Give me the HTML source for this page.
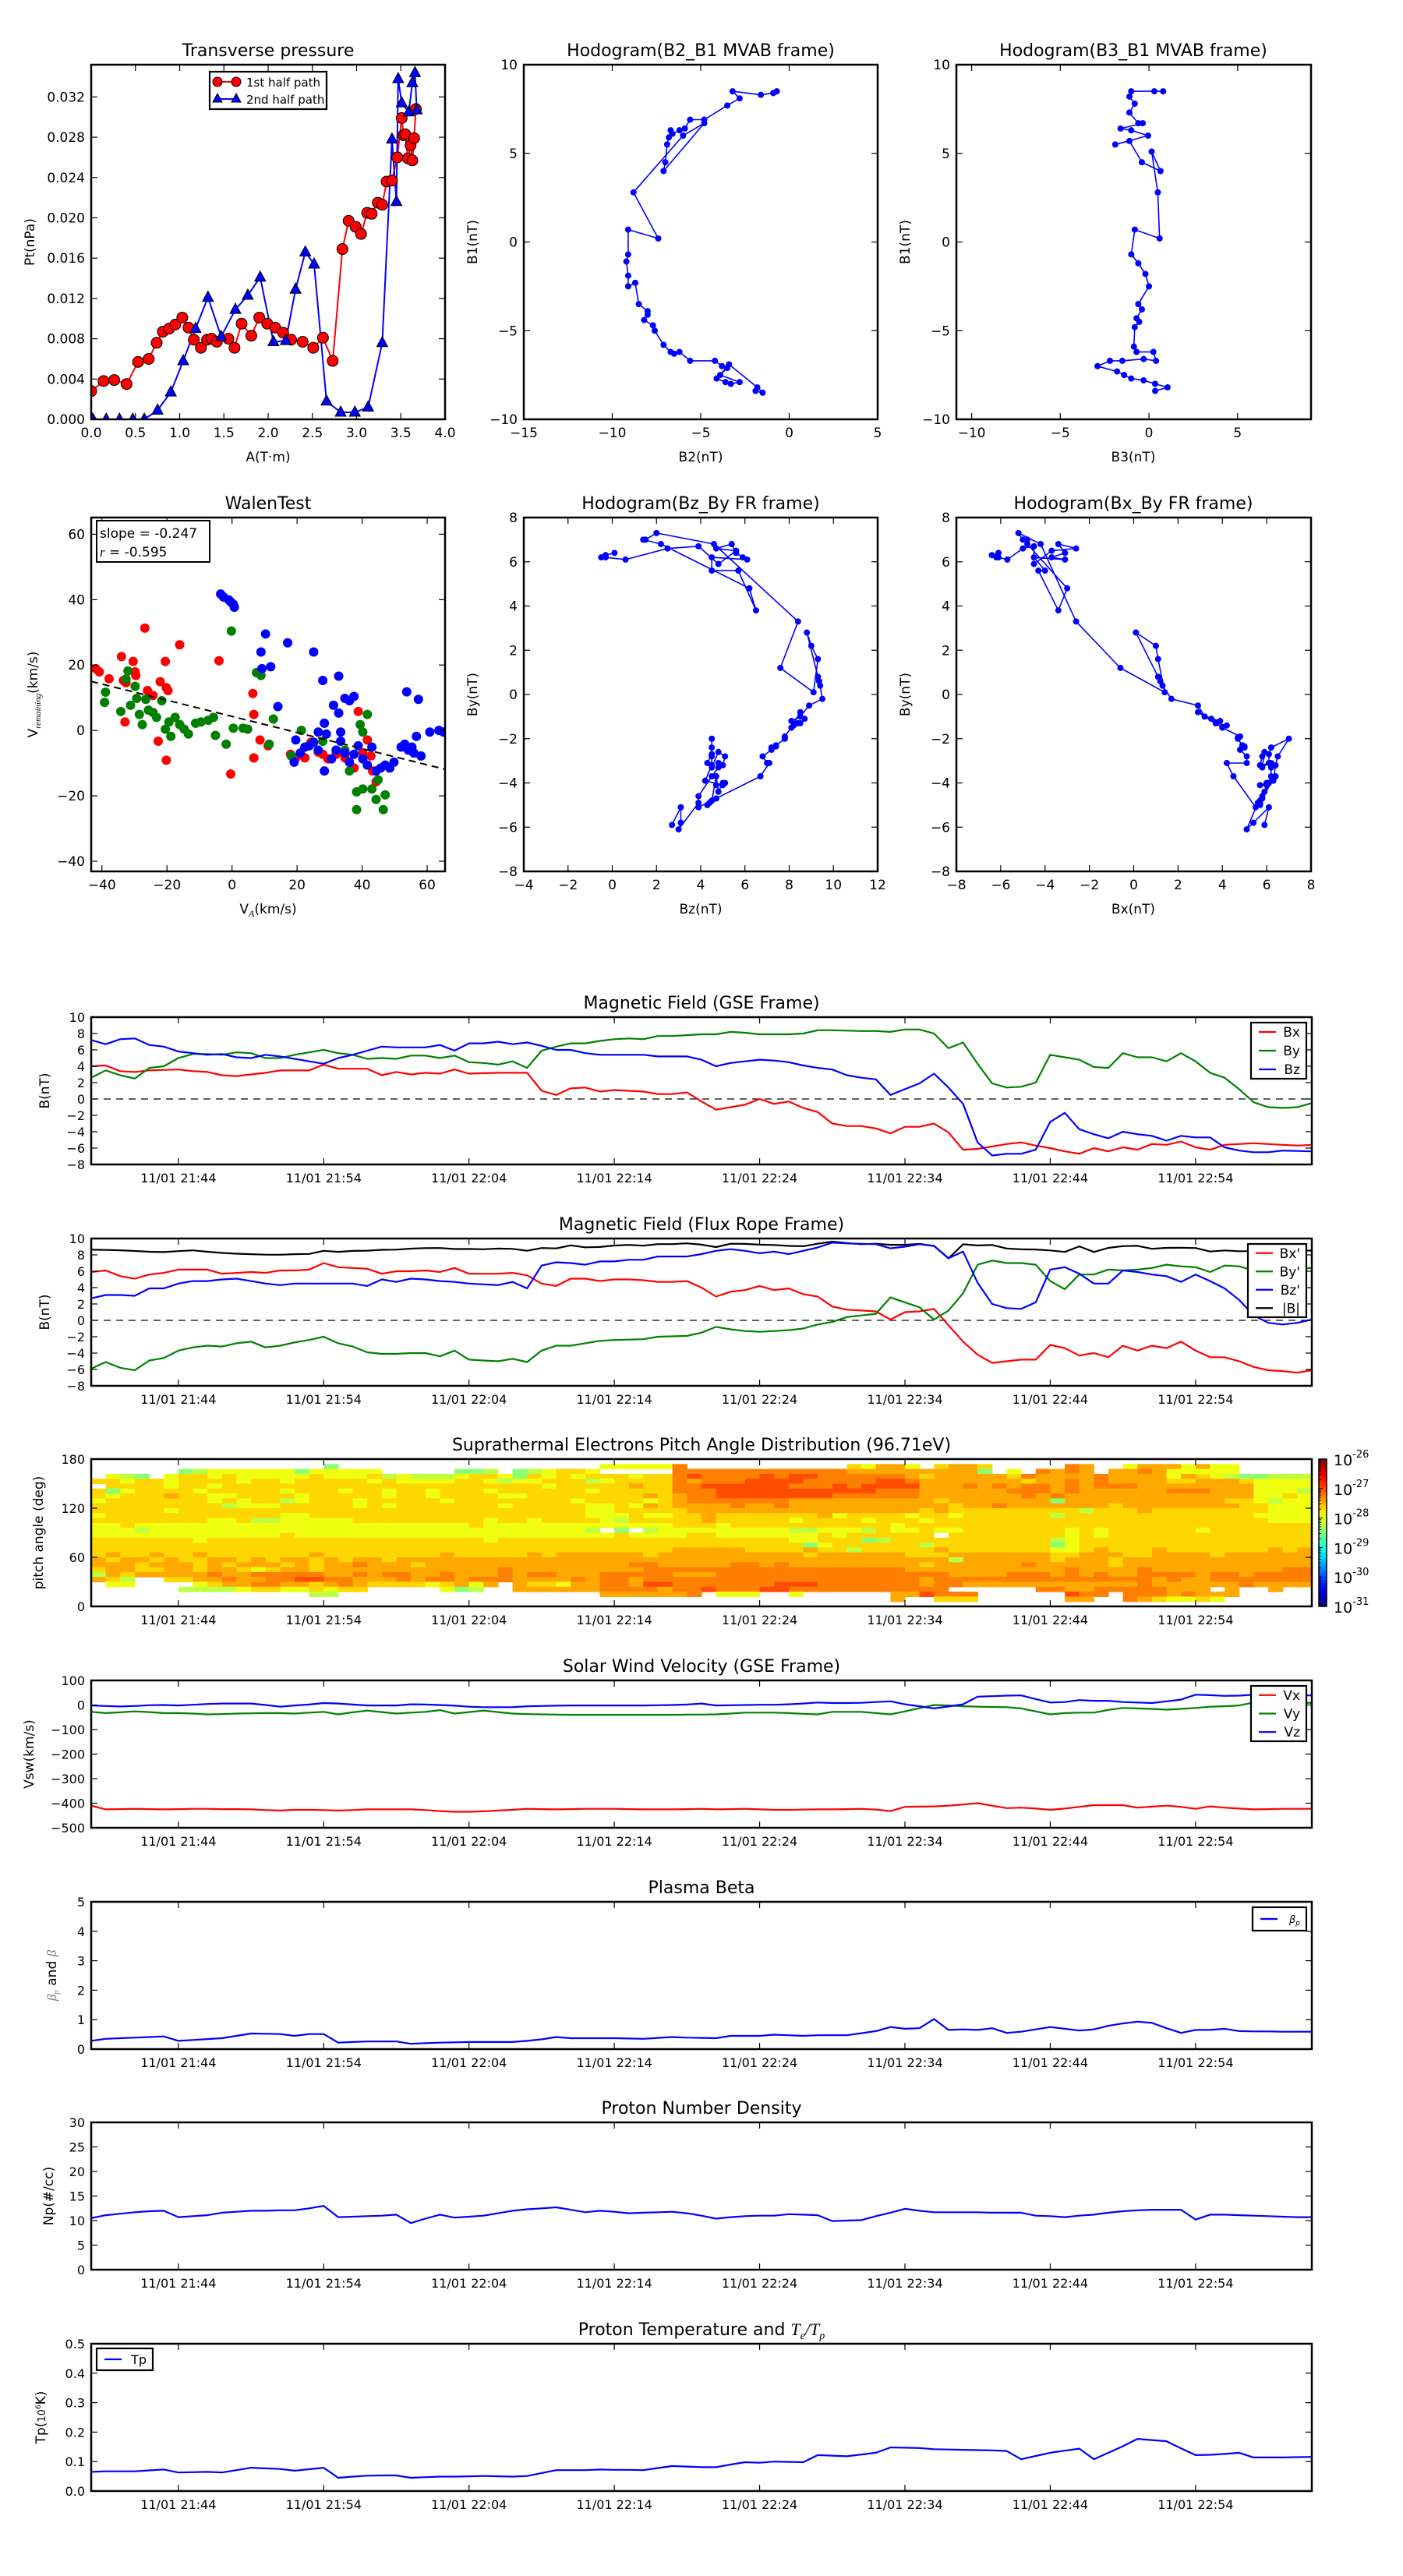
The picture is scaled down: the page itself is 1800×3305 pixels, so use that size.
<!DOCTYPE html>
<html><head><meta charset="utf-8">
<style>
html,body{margin:0;padding:0;background:#fff;}
svg text{font-family:"DejaVu Sans","Liberation Sans",sans-serif;fill:#000;}
</style></head>
<body>
<svg id="fig" xmlns="http://www.w3.org/2000/svg" width="1800" height="3300" viewBox="0 0 1800 3300">
<rect x="0" y="0" width="1800" height="3300" fill="#fff"/>
</svg>
<script>
// ---------------- DATA ----------------
const timeTickMin=[6,16,26,36,46,56,66,76];
const timeTickLabels=["11/01 21:44","11/01 21:54","11/01 22:04","11/01 22:14","11/01 22:24","11/01 22:34","11/01 22:44","11/01 22:54"];

const gseBx=[4.0,4.1,3.4,3.3,3.5,3.55,3.6,3.4,3.3,2.9,2.8,3.0,3.2,3.5,3.5,3.5,4.2,3.7,3.7,3.7,2.9,3.3,3.0,3.2,3.1,3.6,3.1,3.15,3.2,3.2,3.2,1.0,0.5,1.3,1.4,0.9,1.1,1.0,0.9,0.6,0.6,0.8,-0.3,-1.3,-1.0,-0.7,0.0,-0.6,-0.3,-1.1,-1.6,-3.0,-3.3,-3.3,-3.6,-4.2,-3.4,-3.4,-3.0,-4.1,-6.2,-6.1,-5.8,-5.5,-5.3,-5.7,-6.0,-6.4,-6.7,-6.0,-6.4,-5.9,-6.2,-5.5,-5.6,-5.2,-5.9,-6.2,-5.6,-5.5,-5.4,-5.5,-5.6,-5.7,-5.6];
const gseBy=[2.6,3.5,2.9,2.5,3.8,4.0,5.0,5.5,5.5,5.4,5.7,5.6,5.0,5.0,5.4,5.7,6.0,5.6,5.4,4.9,5.0,4.9,5.3,5.3,5.0,5.3,4.5,4.4,4.2,4.6,3.8,5.9,6.4,6.8,6.8,7.1,7.3,7.4,7.3,7.7,7.7,7.8,7.9,7.9,8.2,8.1,7.9,7.9,7.9,8.0,8.4,8.4,8.35,8.3,8.3,8.2,8.5,8.5,8.0,6.2,6.9,4.3,1.9,1.4,1.5,2.0,5.4,5.1,4.8,3.9,3.8,5.6,5.1,5.1,4.6,5.6,4.6,3.2,2.6,1.2,-0.4,-1.0,-1.1,-1.0,-0.5];
const gseBz=[7.2,6.7,7.3,7.4,6.6,6.4,5.8,5.6,5.4,5.5,5.1,5.0,5.4,5.2,4.9,4.6,4.3,5.0,5.4,5.9,6.4,6.3,6.3,6.3,6.6,5.9,6.8,6.8,7.0,6.7,6.9,6.5,6.0,6.0,5.6,5.4,5.4,5.4,5.4,5.2,5.2,5.2,4.8,4.0,4.4,4.6,4.8,4.7,4.5,4.1,3.8,3.6,2.9,2.6,2.4,0.5,1.2,1.9,3.1,1.4,-0.6,-5.3,-6.9,-6.7,-6.7,-6.2,-2.8,-1.7,-3.7,-4.3,-4.8,-4.0,-4.3,-4.5,-5.1,-4.5,-4.7,-4.7,-5.9,-6.3,-6.5,-6.5,-6.3,-6.35,-6.4];

const frBx=[5.9,6.1,5.4,5.1,5.6,5.8,6.2,6.2,6.2,5.7,5.8,5.9,5.8,6.1,6.1,6.2,7.0,6.5,6.4,6.3,5.7,6.0,6.0,6.1,5.9,6.4,5.7,5.7,5.7,5.8,5.5,4.5,4.2,5.1,5.1,4.8,5.0,5.0,4.9,4.7,4.7,4.8,4.0,2.9,3.5,3.7,4.2,3.7,3.9,3.2,2.9,1.7,1.3,1.2,1.1,0.1,1.0,1.1,1.4,-0.6,-2.6,-4.2,-5.2,-5.0,-4.8,-4.8,-3.0,-3.4,-4.3,-4.0,-4.5,-3.1,-3.7,-3.1,-3.4,-2.6,-3.7,-4.5,-4.5,-5.0,-5.7,-6.1,-6.2,-6.4,-6.1];
const frBy=[-5.9,-5.1,-5.8,-6.1,-4.9,-4.6,-3.7,-3.3,-3.1,-3.2,-2.8,-2.6,-3.3,-3.1,-2.7,-2.4,-2.0,-2.8,-3.2,-3.9,-4.1,-4.1,-4.0,-4.0,-4.4,-3.7,-4.8,-4.9,-5.0,-4.7,-5.1,-3.7,-3.1,-3.1,-2.8,-2.5,-2.4,-2.35,-2.3,-2.0,-1.95,-1.9,-1.5,-0.8,-1.1,-1.3,-1.4,-1.3,-1.2,-1.0,-0.5,-0.2,0.4,0.6,0.8,2.8,2.2,1.6,0.1,1.2,3.3,6.8,7.3,7.0,7.0,6.8,4.8,3.8,5.6,5.6,6.2,6.1,6.2,6.4,6.8,6.6,6.5,5.9,6.7,6.6,6.1,6.2,6.2,6.3,6.4];
const frBz=[2.7,3.1,3.1,3.0,3.9,3.9,4.5,4.8,4.8,5.0,5.1,4.8,4.5,4.3,4.5,4.5,4.5,4.5,4.5,4.2,5.0,4.7,5.1,5.0,4.8,4.7,4.5,4.4,4.3,4.7,3.9,6.7,7.1,7.0,6.8,7.2,7.2,7.4,7.4,7.8,7.8,7.8,8.1,8.5,8.7,8.5,8.2,8.4,8.1,8.5,8.9,9.5,9.4,9.35,9.3,8.8,9.0,9.3,9.1,7.6,8.4,4.6,2.0,1.5,1.4,2.2,6.2,6.5,5.7,4.5,4.5,6.1,5.9,5.6,5.4,4.7,5.6,4.8,3.9,2.5,0.6,-0.3,-0.5,-0.3,0.1];

// PAD: one string per 6-degree pitch-angle bin (top = 174-180 deg), one digit per minute (0 = no data, 1..7 = flux level)
const padRows=[
"00000 00000 00000 00000 00000 00000 00000 00000 00000 00000 00000 00000 00000 00000 00000 00000 00000",
"00000 00000 00000 01000 00000 00000 00000 33333 60000 00000 00435 53045 54000 00650 03555 35330 00000",
"00000 01233 33331 33333 00000 11201 23443 00000 66666 66666 66555 55555 51030 65650 55653 33330 00000",
"03210 34434 33333 43334 23222 34431 43434 44344 67666 67677 66666 65455 55546 55556 55553 54321 12222",
"44344 34444 34434 44443 43333 44323 34442 34444 65666 77776 66667 76555 55554 55656 55554 45554 33333",
"04444 34434 44444 44444 44444 44444 43444 44544 66777 77766 67677 77555 65656 65656 66555 55555 33332",
"41344 44344 44434 44344 34434 44344 44443 44444 66677 77777 77776 66555 55566 65655 55556 66555 33323",
"43444 54433 44443 44444 34434 44433 44444 44454 56677 77777 76666 66555 55556 56555 55555 55555 33433",
"34444 44434 34423 44434 44443 44444 44434 44434 56666 66655 55555 55545 55555 51555 55555 55544 32333",
"44444 44442 33344 44434 34444 44434 44443 34354 55556 55655 55555 55554 55655 55555 45555 55554 43333",
"44444 34444 44444 44444 44444 44444 44443 34444 45555 55555 55555 55454 44444 44424 44544 44444 43333",
"34444 44444 44433 44444 44444 44444 44443 33433 44544 44444 53444 43443 44444 42444 44444 44444 33333",
"44444 44433 42233 33344 44444 44344 34444 32444 44544 44434 44434 44344 44444 44444 44444 44444 43333",
"33433 33333 33333 33333 33333 34333 33333 33333 44434 44444 44444 34444 44444 44444 44444 44444 44444",
"33323 33333 33333 33333 33333 33333 33332 01023 33333 33322 33324 33433 44444 44343 44444 43444 44444",
"33333 33333 33343 33333 33333 33333 33333 34333 34433 33333 43444 44404 44444 44343 44444 44444 44444",
"44444 44344 44444 44444 44444 44344 44444 44444 44444 44433 44412 44444 44444 42344 44444 44444 44444",
"44444 44444 44444 44444 44444 44444 44444 44444 44444 44441 34444 44244 44444 41344 44444 44444 44444",
"44444 44444 44444 44444 44444 44444 44444 44444 55555 44445 44244 44454 44444 43345 44454 44444 45454",
"45445 44544 44444 54444 44445 44444 54555 55545 55555 55554 55555 54445 55555 54455 54455 55455 55554",
"54554 54455 45455 45455 45555 55555 55555 55555 55555 55555 55555 55552 55555 54555 45555 55555 55555",
"55545 55454 55545 45565 55455 55555 55555 55665 55556 65655 55555 55455 55556 55555 45555 55555 55555",
"45544 55455 43455 45555 55555 55565 55555 55566 66666 66666 66666 65555 55555 55655 55655 55555 55665",
"25455 55565 56666 65565 66556 55565 66555 66666 55566 66666 66666 66665 55566 65656 55666 65665 66666",
"54200 44556 55667 76655 56566 56665 55565 66566 66666 66666 66666 66566 66666 66666 66656 55666 66666",
"03300 00345 56655 45654 44434 53505 44355 66577 66666 66777 66666 66566 55555 55555 55655 55556 55555",
"00000 02222 34433 43440 00003 12005 55555 66665 66766 67766 66666 66660 00000 66556 66665 55050 05000",
"00000 00000 00000 22000 00000 00000 00000 55555 56033 30030 00000 55766 60000 00766 06665 65550 00000",
"00000 00000 00000 00000 00000 00000 00000 00000 00000 00000 00000 50044 40000 00550 06543 34300 00000",
"00000 00000 00000 00000 00000 00000 00000 00000 00000 00000 00000 00000 00000 00000 00000 00000 00000"];
const padLevelLog=[null,-28.45,-28.2,-27.95,-27.68,-27.45,-27.25,-27.0];
const cbarLabels=["-26","-27","-28","-29","-30","-31"];

const swVx=[-410,-425,-424,-423,-424,-425,-424,-423,-423,-424,-424,-425,-428,-430,-427,-427,-428,-430,-428,-425,-425,-425,-425,-428,-432,-435,-435,-433,-430,-427,-423,-424,-425,-424,-423,-423,-423,-424,-425,-425,-425,-424,-423,-425,-424,-423,-425,-427,-427,-426,-425,-425,-424,-423,-426,-432,-415,-414,-413,-410,-405,-400,-410,-420,-418,-422,-427,-422,-415,-408,-408,-408,-418,-414,-410,-415,-423,-413,-418,-422,-425,-424,-423,-423,-423];
const swVy=[-28,-33,-30,-26,-29,-33,-33,-35,-38,-37,-35,-34,-33,-33,-35,-31,-28,-38,-30,-23,-29,-35,-31,-28,-21,-35,-29,-23,-29,-35,-37,-38,-39,-40,-40,-40,-40,-40,-40,-40,-40,-39,-39,-38,-35,-31,-31,-31,-33,-36,-38,-28,-28,-28,-33,-38,-26,-13,0,-2,-5,-7,-8,-9,-14,-26,-38,-33,-31,-31,-20,-12,-14,-16,-19,-16,-12,-7,-5,-2,10,15,15,12,8];
const swVz=[-2,-4,-6,-4,-1,0,-2,1,4,6,6,6,0,-7,-2,2,8,6,2,-2,-2,-2,3,2,0,-3,-7,-9,-9,-9,-5,-4,-3,-2,-2,-2,-2,-2,-2,-1,0,2,6,-2,-1,0,1,1,3,6,10,8,8,9,12,15,3,-5,-14,-6,3,34,36,38,39,24,10,12,20,17,17,12,10,8,15,22,42,40,37,38,42,40,39,39,39];
const betaP=[0.28,0.35,0.37,0.39,0.41,0.43,0.28,0.31,0.34,0.37,0.45,0.53,0.52,0.51,0.45,0.51,0.51,0.22,0.24,0.26,0.26,0.26,0.18,0.2,0.22,0.23,0.24,0.24,0.24,0.24,0.28,0.33,0.41,0.37,0.37,0.37,0.37,0.36,0.35,0.38,0.41,0.39,0.38,0.37,0.45,0.45,0.45,0.49,0.47,0.45,0.47,0.47,0.47,0.54,0.61,0.75,0.69,0.71,1.02,0.65,0.67,0.65,0.71,0.55,0.59,0.67,0.75,0.69,0.63,0.67,0.79,0.87,0.93,0.89,0.71,0.55,0.65,0.65,0.69,0.61,0.6,0.6,0.59,0.59,0.59];
const npDens=[10.5,11.1,11.4,11.7,11.9,12.0,10.7,10.9,11.1,11.6,11.8,12.0,12.0,12.1,12.1,12.5,13.0,10.7,10.8,10.9,11.0,11.2,9.5,10.4,11.2,10.6,10.8,11.0,11.5,12.0,12.3,12.5,12.7,12.2,11.7,12.0,11.8,11.5,11.6,11.7,11.8,11.5,11.0,10.4,10.7,10.9,11.0,11.0,11.3,11.2,11.1,9.9,10.0,10.1,10.9,11.6,12.4,12.0,11.7,11.7,11.7,11.7,11.6,11.6,11.6,11.0,10.9,10.7,11.0,11.2,11.6,11.9,12.1,12.2,12.2,12.2,10.2,11.2,11.2,11.1,11.0,10.9,10.8,10.7,10.7];
const tpTemp=[0.065,0.067,0.067,0.067,0.07,0.073,0.063,0.064,0.065,0.063,0.071,0.079,0.077,0.075,0.069,0.074,0.079,0.045,0.049,0.052,0.053,0.053,0.045,0.047,0.049,0.049,0.05,0.051,0.05,0.049,0.051,0.061,0.071,0.071,0.071,0.073,0.072,0.072,0.071,0.078,0.085,0.083,0.081,0.081,0.09,0.098,0.096,0.1,0.099,0.098,0.122,0.12,0.118,0.124,0.13,0.148,0.147,0.146,0.142,0.141,0.14,0.139,0.138,0.136,0.108,0.119,0.13,0.137,0.144,0.108,0.13,0.152,0.177,0.173,0.169,0.145,0.122,0.123,0.126,0.13,0.114,0.114,0.114,0.115,0.116];

const ptA1=[0.0,.14,.26,.40,.53,.65,.74,.81,.88,.95,1.03,1.10,1.16,1.24,1.31,1.36,1.42,1.55,1.62,1.70,1.81,1.90,1.99,2.08,2.17,2.26,2.39,2.51,2.62,2.73,2.84,2.91,2.99,3.05,3.12,3.17,3.24,3.29,3.34,3.40,3.46,3.51,3.53,3.55,3.58,3.61,3.63,3.65,3.67];
const ptP1=[.0028,.0038,.0039,.0035,.0057,.0060,.0076,.0087,.0090,.0094,.0101,.0091,.0079,.0071,.0079,.0080,.0077,.0080,.0071,.0095,.0083,.0101,.0095,.0091,.0086,.0079,.0077,.0071,.0081,.0058,.0169,.0197,.0191,.0184,.0205,.0204,.0215,.0213,.0236,.0237,.0260,.0299,.0282,.0283,.0259,.0272,.0257,.0279,.0308];
const ptA2=[.02,.17,.32,.47,.6,.75,.9,1.04,1.18,1.32,1.47,1.63,1.77,1.91,2.06,2.2,2.31,2.42,2.52,2.66,2.82,2.98,3.13,3.29,3.40,3.45,3.47,3.51,3.59,3.63,3.66,3.68];
const ptP2=[0,0,0,0,0,.0009,.0027,.0058,.0090,.0121,.0082,.0109,.0123,.0141,.0077,.0078,.0129,.0166,.0154,.0018,.0007,.0007,.0012,.0076,.0278,.0216,.0338,.0314,.0305,.0334,.0344,.0307];

const mvB2=[-0.7,-0.9,-1.6,-3.2,-2.8,-3.5,-4.8,-5.6,-5.9,-6.2,-6.6,-6.7,-6.8,-6.9,-7.0,-7.1,-4.8,-6.0,-8.8,-7.4,-9.1,-9.1,-9.2,-9.1,-9.1,-8.7,-8.5,-8.0,-8.0,-8.2,-7.7,-7.6,-7.1,-6.7,-6.5,-6.2,-5.6,-4.2,-3.8,-3.5,-4.1,-3.6,-3.3,-2.8,-3.9,-3.4,-1.8,-1.5,-1.9];
const mvB1=[8.5,8.4,8.3,8.5,8.1,7.7,6.9,6.9,6.4,6.3,6.1,6.3,5.9,5.5,4.5,4.0,6.7,6.0,2.8,0.2,0.7,-0.7,-1.1,-1.9,-2.5,-2.3,-3.5,-3.9,-4.1,-4.4,-4.7,-5.0,-5.8,-6.2,-6.3,-6.2,-6.7,-6.7,-7.0,-7.1,-7.7,-7.9,-8.0,-7.9,-7.5,-6.9,-8.2,-8.5,-8.4];
const mvB3=[0.8,0.3,-1.0,-1.1,-0.8,-1.1,-0.6,-0.35,-1.6,-1.0,-0.05,-1.9,-1.1,-0.4,0.65,0.15,0.5,0.6,-0.8,-1.0,-0.6,-0.2,0.0,-0.6,-0.4,-0.7,-0.55,-0.8,-0.85,-0.7,0.25,0.4,-0.3,-1.5,-2.2,-2.9,-1.8,-1.4,-1.0,-0.3,0.35,1.05,0.35];
const mvB1b=[8.5,8.5,8.5,8.2,7.8,7.3,6.7,6.7,6.4,6.3,6.0,5.5,5.7,4.5,4.0,5.1,2.8,0.2,0.7,-0.7,-1.2,-1.8,-2.5,-3.5,-3.8,-4.3,-4.5,-4.8,-5.9,-6.2,-6.2,-6.7,-6.6,-6.7,-6.7,-7.0,-7.3,-7.5,-7.7,-7.8,-8.0,-8.2,-8.4];

const walenRedX=[-41.9,-40.8,-37.8,-34,-33.4,-32.6,-30.4,-29.8,-29.6,-32.9,-26.8,-26,-24.3,-22.7,-22.1,-20.5,-20.2,-20.2,-19.7,-16.1,-4,-0.4,6.4,6.7,8.6,11.1,6.7,18,19.6,22.4,24.3,26.5,27.9,29.5,32,34.7,37.5,38.8,40.2,41.6,42.7,43.2,44.3];
const walenRedY=[18.9,17.9,15.8,22.6,15.3,14.6,21.1,17.9,16.8,2.6,31.3,12.2,10.7,-3.3,14.9,21.1,13.1,-9.1,12.2,26.2,21.3,-13.3,11.3,4.9,-2.9,-4.7,-8.4,-7.3,-8.4,-8.4,-3.6,-6.6,-7.3,-8.7,-7.3,-8.4,-11.5,5.8,-6.9,-2.9,-7.8,-12.4,-15.7];
const walenGreenX=[-32,-32.6,-38.9,-39.2,-34.2,-31.2,-29.8,-29.3,-28.5,-27.6,-26.5,-25.7,-24.3,-23.2,-21.6,-20.5,-19.4,-18.8,-17.5,-16.1,-14.7,-13.4,-11.2,-9.5,-7.3,-5.7,-5.1,-1.8,0.4,-0.2,3.4,4.8,7.5,8.9,11.4,12.7,18.2,21.3,27.9,34.7,36.1,38.3,38.3,40.2,41.6,43,44.3,44.9,46.5,47.1,39.4,40.2];
const walenGreenY=[18.2,15.7,11.7,8.6,5.8,7.7,13.5,9.8,4.9,1.8,9.5,6.2,5.5,4.0,9.1,0.4,2.6,-1.8,4,1.8,0.4,-1.1,2.2,2.6,3.1,4,-1.5,-4.2,0.7,30.4,0.7,0.4,17.7,16.8,-4.2,3.5,-7.8,0,-3.3,-6,-12.4,-18.8,-24.2,-17.9,4.9,-17.9,-21.1,-15.1,-24.2,-19.7,1.8,-0.5];
const walenBlueX=[-3.5,-2.6,-1,-0.4,0.4,0.7,10.3,8.9,9.2,11.9,17.1,25.1,27.9,32.8,31.2,32.8,34.7,36.1,37.5,28.4,26.5,19.6,19.1,21,22.4,23.7,25.1,26.5,28.4,30.6,32,33.4,34.7,36.1,37.5,38.8,40.2,41.6,43,44.3,45.7,47.1,48.5,49.8,52,53.1,54.2,55.3,55.9,56.7,57.3,53.7,58.1,60.8,63.6,65,14.1,29,33.4];
const walenBlueY=[41.7,40.8,39.9,39.3,38.6,37.7,29.5,24,18.9,19.5,26.8,24,15.3,16.6,7.7,5.3,9.8,9.1,10.4,2.2,-0.5,-2.9,-9.7,-6.9,-5.1,-4.7,-3.6,-6,-12.4,-8.7,-6,-3.3,-6.9,-9.7,-7.3,-4.7,-8.7,-10.6,-5.1,-12.4,-11.5,-10.6,-11.5,-9.7,-5.1,-4.2,-6,-5.1,-6.9,-1.8,9.5,11.8,-7.8,-0.5,0,-0.5,7.3,-1.1,-0.5];
const walenSlope=-0.247, walenIntercept=4.3;

// ---------------- RENDER HELPERS ----------------
const NS='http://www.w3.org/2000/svg';
const svg=document.getElementById('fig');
function mk(tag,attrs,parent){const e=document.createElementNS(NS,tag);for(const k in attrs)e.setAttribute(k,attrs[k]);(parent||svg).appendChild(e);return e;}
function tx(parent,x,y,s,size,anchor,extra){const e=mk('text',Object.assign({x:x,y:y,'font-size':size,'text-anchor':anchor||'middle'},extra||{}),parent);e.textContent=s;return e;}
let clipId=0;
function axes(c){
  const g=mk('g',{});
  
  
  const sx=v=>c.x0+(v-c.xmin)/(c.xmax-c.xmin)*c.w;
  const sy=v=>c.y0+c.h-(v-c.ymin)/(c.ymax-c.ymin)*c.h;
  const id='clip'+(clipId++);
  const cp=mk('clipPath',{id:id},g);
  mk('rect',{x:c.x0,y:c.y0,width:c.w,height:c.h},cp);
  const plot=mk('g',{'clip-path':'url(#'+id+')'},g);
  
  
  return {g,plot,sx,sy,c};
}
function finishAxes(A,xt,xl,yt,yl,fs){
  const c=A.c,g=A.g;fs=fs||17;
  const tg=mk('g',{stroke:'#000','stroke-width':1.2},g);
  
  
  xt.forEach((v,i)=>{const x=A.sx(v);
    mk('line',{x1:x,x2:x,y1:c.y0+c.h,y2:c.y0+c.h-8},tg);mk('line',{x1:x,x2:x,y1:c.y0,y2:c.y0+8},tg);
    const t=tx(g,x,c.y0+c.h+23,xl[i],fs);
    
    });
  yt.forEach((v,i)=>{const y=A.sy(v);
    mk('line',{x1:c.x0,x2:c.x0+8,y1:y,y2:y},tg);mk('line',{x1:c.x0+c.w,x2:c.x0+c.w-8,y1:y,y2:y},tg);
    const t=tx(g,c.x0-8,y+6,yl[i],fs,'end');
    
    });
  const fr=mk('rect',{x:c.x0,y:c.y0,width:c.w,height:c.h,fill:'none',stroke:'#000','stroke-width':2.5},g);
  
  
}
function line(A,xs,ys,color,w,name){
  const n=Math.min(xs.length,ys.length);const pts=[];
  for(let i=0;i<n;i++)pts.push(A.sx(xs[i]).toFixed(1)+','+A.sy(ys[i]).toFixed(1));
  const p=mk('polyline',{points:pts.join(' '),fill:'none',stroke:color,'stroke-width':w||2.2,'stroke-linejoin':'round'},A.plot);
  
  
  return p;
}
function dots(A,xs,ys,color,r,name){
  const n=Math.min(xs.length,ys.length);
  for(let i=0;i<n;i++){const d=mk('circle',{cx:A.sx(xs[i]),cy:A.sy(ys[i]),r:r,fill:color,stroke:'none'},A.plot);
    
    }
}
function title(x,y,s,size){const t=tx(svg,x,y,s,size||22);return t;}
function ylab(x,y,s,size){const t=tx(svg,0,0,s,size||17,'middle',{transform:'translate('+x+','+y+') rotate(-90)'});return t;}
function xlab(x,y,s,size){const t=tx(svg,x,y,s,size||17);return t;}
function legend(x,y,w,h,entries,name){
  const g=mk('g',{});
  
  
  mk('rect',{x:x,y:y,width:w,height:h,fill:'#fff',stroke:'#000','stroke-width':2.2},g);
  const step=h/entries.length;
  entries.forEach((e,i)=>{const cy=y+step*(i+0.5);
    mk('line',{x1:x+10,x2:x+32,y1:cy,y2:cy,stroke:e[1],'stroke-width':2.2},g);
    const t=tx(g,x+w-8,cy+6,e[0],17,'end');
    
    });
}
function range(a,b,s){const r=[];for(let v=a;v<=b+1e-9;v+=s)r.push(+v.toFixed(6));return r;}
function fmtMinus(v,d){const s=v.toFixed(d||0);return s.replace('-','\u2212');}
function jet(f){f=Math.max(0,Math.min(1,f));const cl=v=>Math.round(255*Math.max(0,Math.min(1,v)));
  return 'rgb('+cl(1.5-Math.abs(4*f-3))+','+cl(1.5-Math.abs(4*f-2))+','+cl(1.5-Math.abs(4*f-1))+')';}

// ---------------- TOP ROW ----------------
const R1={y0:83,h:455}, R2={y0:664,h:454};
const C=[{x0:117,w:454},{x0:672,w:454},{x0:1227,w:455}];

// Transverse pressure
(function(){
  const A=axes({name:'transverse-pressure-chart',x0:C[0].x0,w:C[0].w,y0:R1.y0,h:R1.h,xmin:0,xmax:4,ymin:0,ymax:0.0352});
  line(A,ptA1,ptP1,'#ff0000',2,'first-half-path-line');
  line(A,ptA2,ptP2,'#0000ff',2,'second-half-path-line');
  for(let i=0;i<ptA1.length;i++){const d=mk('circle',{cx:A.sx(ptA1[i]),cy:A.sy(ptP1[i]),r:7,fill:'#ff0000',stroke:'#000','stroke-width':1},A.plot);
    
    }
  for(let i=0;i<ptA2.length;i++){const x=A.sx(ptA2[i]),y=A.sy(ptP2[i]);
    const t=mk('polygon',{points:(x)+','+(y-8)+' '+(x-7)+','+(y+5)+' '+(x+7)+','+(y+5),fill:'#0000ff',stroke:'#000','stroke-width':1},A.plot);
    
    }
  finishAxes(A,range(0,4,0.5),range(0,4,0.5).map(v=>v.toFixed(1)),range(0,0.032,0.004),range(0,0.032,0.004).map(v=>v.toFixed(3)));
  const lg=mk('g',{});
  
  
  mk('rect',{x:269,y:92,width:150,height:48,fill:'#fff',stroke:'#000','stroke-width':2.2},lg);
  mk('line',{x1:279,x2:303,y1:105,y2:105,stroke:'#ff0000','stroke-width':2},lg);
  mk('circle',{cx:279,cy:105,r:6,fill:'#ff0000',stroke:'#000'},lg);mk('circle',{cx:303,cy:105,r:6,fill:'#ff0000',stroke:'#000'},lg);
  mk('line',{x1:279,x2:303,y1:127,y2:127,stroke:'#0000ff','stroke-width':2},lg);
  mk('polygon',{points:'279,120 273,131 285,131',fill:'#0000ff',stroke:'#000'},lg);mk('polygon',{points:'303,120 297,131 309,131',fill:'#0000ff',stroke:'#000'},lg);
  tx(lg,316,111,'1st half path',15,'start');tx(lg,316,133,'2nd half path',15,'start');
  title(344,72,'Transverse pressure');ylab(44,R1.y0+R1.h/2,'Pt(nPa)');xlab(344,592,'A(T\u00b7m)');
})();

// Hodogram B2_B1
(function(){
  const A=axes({name:'hodogram-b2-b1-chart',x0:C[1].x0,w:C[1].w,y0:R1.y0,h:R1.h,xmin:-15,xmax:5,ymin:-10,ymax:10});
  line(A,mvB2,mvB1,'#0000ff',1.6,'hodogram-b2-b1-line');dots(A,mvB2,mvB1,'#0000ff',4,'hodogram-point');
  const xt=[-15,-10,-5,0,5],yt=[-10,-5,0,5,10];
  finishAxes(A,xt,xt.map(v=>fmtMinus(v)),yt,yt.map(v=>fmtMinus(v)));
  title(899,72,'Hodogram(B2_B1 MVAB frame)');ylab(612,R1.y0+R1.h/2,'B1(nT)');xlab(899,592,'B2(nT)');
})();
// Hodogram B3_B1
(function(){
  const A=axes({name:'hodogram-b3-b1-chart',x0:C[2].x0,w:C[2].w,y0:R1.y0,h:R1.h,xmin:-10.86,xmax:9.14,ymin:-10,ymax:10});
  line(A,mvB3,mvB1b,'#0000ff',1.6,'hodogram-b3-b1-line');dots(A,mvB3,mvB1b,'#0000ff',4,'hodogram-point');
  const xt=[-10,-5,0,5],yt=[-10,-5,0,5,10];
  finishAxes(A,xt,xt.map(v=>fmtMinus(v)),yt,yt.map(v=>fmtMinus(v)));
  title(1454,72,'Hodogram(B3_B1 MVAB frame)');ylab(1167,R1.y0+R1.h/2,'B1(nT)');xlab(1454,592,'B3(nT)');
})();

// Walen test
(function(){
  const A=axes({name:'walen-test-chart',x0:C[0].x0,w:C[0].w,y0:R2.y0,h:R2.h,xmin:-43.3,xmax:65.5,ymin:-43.1,ymax:65.1});
  dots(A,walenRedX,walenRedY,'#ff0000',6,'walen-red-point');
  dots(A,walenGreenX,walenGreenY,'#008000',6,'walen-green-point');
  dots(A,walenBlueX,walenBlueY,'#0000ff',6,'walen-blue-point');
  const fl=mk('line',{x1:A.sx(-43.3),y1:A.sy(walenSlope*-43.3+walenIntercept),x2:A.sx(65.5),y2:A.sy(walenSlope*65.5+walenIntercept),stroke:'#000','stroke-width':2,'stroke-dasharray':'9,6'},A.plot);
  
  
  const xt=[-40,-20,0,20,40,60];
  finishAxes(A,xt,xt.map(v=>fmtMinus(v)),xt,xt.map(v=>fmtMinus(v)));
  const bx=mk('g',{});
  
  
  mk('rect',{x:124,y:668,width:145,height:53,fill:'#fff',stroke:'#000','stroke-width':2},bx);
  tx(bx,128,690,'slope = -0.247',17,'start');
  const r=tx(bx,128,714,'',17,'start');r.innerHTML='<tspan font-style="italic" font-family="Liberation Serif">r</tspan> = -0.595';
  title(344,653,'WalenTest');
  const yl=ylab(48,R2.y0+R2.h/2,'');yl.innerHTML='V<tspan font-size="11" dy="4" font-style="italic" font-family="Liberation Serif">remaining</tspan><tspan dy="-4">(km/s)</tspan>';
  const xl=xlab(344,1172,'');xl.innerHTML='V<tspan font-size="12" dy="4" font-style="italic" font-family="Liberation Serif">A</tspan><tspan dy="-4">(km/s)</tspan>';
})();

// FR hodograms
(function(){
  const A=axes({name:'hodogram-bz-by-chart',x0:C[1].x0,w:C[1].w,y0:R2.y0,h:R2.h,xmin:-4,xmax:12,ymin:-8,ymax:8});
  line(A,frBz,frBy,'#0000ff',1.6,'hodogram-bz-by-line');dots(A,frBz,frBy,'#0000ff',4,'hodogram-point');
  const xt=range(-4,12,2),yt=range(-8,8,2);
  finishAxes(A,xt,xt.map(v=>fmtMinus(v)),yt,yt.map(v=>fmtMinus(v)));
  title(899,653,'Hodogram(Bz_By FR frame)');ylab(612,R2.y0+R2.h/2,'By(nT)');xlab(899,1172,'Bz(nT)');
})();
(function(){
  const A=axes({name:'hodogram-bx-by-chart',x0:C[2].x0,w:C[2].w,y0:R2.y0,h:R2.h,xmin:-8,xmax:8,ymin:-8,ymax:8});
  line(A,frBx,frBy,'#0000ff',1.6,'hodogram-bx-by-line');dots(A,frBx,frBy,'#0000ff',4,'hodogram-point');
  const xt=range(-8,8,2);
  finishAxes(A,xt,xt.map(v=>fmtMinus(v)),xt,xt.map(v=>fmtMinus(v)));
  title(1454,653,'Hodogram(Bx_By FR frame)');ylab(1167,R2.y0+R2.h/2,'By(nT)');xlab(1454,1172,'Bx(nT)');
})();

// ---------------- TIME SERIES ----------------
const TS={x0:117,w:1566,h:189};
const tops=[1305,1589,1872,2156,2440,2723,3007];
const minutes=gseBx.map((v,i)=>i);
function tsAxes(i,name,ymin,ymax){return axes({name:name,x0:TS.x0,w:TS.w,y0:tops[i],h:TS.h,xmin:0,xmax:84,ymin:ymin,ymax:ymax});}
function zeroLine(A,name){const l=mk('line',{x1:TS.x0,x2:TS.x0+TS.w,y1:A.sy(0),y2:A.sy(0),stroke:'#000','stroke-width':1.3,'stroke-dasharray':'9,7'},A.plot);
  
  }
const midX=TS.x0+TS.w/2;

// GSE
(function(){
  const A=tsAxes(0,'gse-field-chart',-8,10);
  zeroLine(A,'gse-zero-line');
  line(A,minutes,gseBx,'#ff0000',2.2,'series-bx');line(A,minutes,gseBy,'#008000',2.2,'series-by');line(A,minutes,gseBz,'#0000ff',2.2,'series-bz');
  const yt=range(-8,10,2);
  finishAxes(A,timeTickMin,timeTickLabels,yt,yt.map(v=>fmtMinus(v)),16);
  legend(1605,1312,71,72,[['Bx','#ff0000'],['By','#008000'],['Bz','#0000ff']],'gse-legend');
  title(midX,tops[0]-11,'Magnetic Field (GSE Frame)');ylab(63,tops[0]+TS.h/2,'B(nT)');
})();
// FR
(function(){
  const A=tsAxes(1,'flux-rope-field-chart',-8,10);
  zeroLine(A,'fr-zero-line');
  const bt=gseBx.map((v,i)=>Math.sqrt(v*v+gseBy[i]*gseBy[i]+gseBz[i]*gseBz[i]));
  line(A,minutes,bt,'#000000',2.2,'series-btotal');
  line(A,minutes,frBx,'#ff0000',2.2,'series-bx-prime');line(A,minutes,frBy,'#008000',2.2,'series-by-prime');line(A,minutes,frBz,'#0000ff',2.2,'series-bz-prime');
  const yt=range(-8,10,2);
  finishAxes(A,timeTickMin,timeTickLabels,yt,yt.map(v=>fmtMinus(v)),16);
  legend(1601,1596,75,94,[["Bx'",'#ff0000'],["By'",'#008000'],["Bz'",'#0000ff'],['|B|','#000000']],'fr-legend');
  title(midX,tops[1]-11,'Magnetic Field (Flux Rope Frame)');ylab(63,tops[1]+TS.h/2,'B(nT)');
})();
// PAD
(function(){
  const A=tsAxes(2,'pitch-angle-heatmap',0,180);
  padRows.forEach((rs,i)=>{const s=rs.replace(/ /g,'');const hi=180-6*i,lo=hi-6;
    for(let k=0;k<s.length;k++){const d=+s[k];if(!d)continue;const lv=padLevelLog[d];
      const cell=mk('rect',{x:A.sx(k).toFixed(1),y:A.sy(hi).toFixed(1),width:(A.sx(k+1)-A.sx(k)+0.6).toFixed(1),height:(A.sy(lo)-A.sy(hi)+0.6).toFixed(1),fill:jet((lv+31)/5)},A.plot);
      
      }});
  finishAxes(A,timeTickMin,timeTickLabels,[0,60,120,180],['0','60','120','180'],16);
  title(midX,tops[2]-11,'Suprathermal Electrons Pitch Angle Distribution (96.71eV)');ylab(55,tops[2]+TS.h/2,'pitch angle (deg)');
  // colorbar
  const cb=mk('g',{});
  
  
  const defs=mk('defs',{},cb);const gr=mk('linearGradient',{id:'jetgrad',x1:0,y1:1,x2:0,y2:0},defs);
  for(let i=0;i<=20;i++)mk('stop',{offset:(i/20),'stop-color':jet(i/20)},gr);
  const y0=tops[2],h=TS.h;
  mk('rect',{x:1692,y:y0,width:10,height:h,fill:'url(#jetgrad)',stroke:'#000','stroke-width':1.5},cb);
  cbarLabels.forEach((s,i)=>{const y=y0+h*i/5;
    mk('line',{x1:1692,x2:1697,y1:y,y2:y,stroke:'#000','stroke-width':1},cb);
    const t=tx(cb,1711,y+8,'',19,'start');t.innerHTML='10<tspan font-size="13" dy="-10">'+s+'</tspan>';
    
    
    if(i<5)for(let m=2;m<10;m++){const yy=y+h/5*(1-Math.log10(m));mk('line',{x1:1692,x2:1695,y1:yy,y2:yy,stroke:'#000','stroke-width':0.8},cb);}
  });
})();
// SW velocity
(function(){
  const A=tsAxes(3,'solar-wind-velocity-chart',-500,100);
  line(A,minutes,swVx,'#ff0000',2.2,'series-vx');line(A,minutes,swVy,'#008000',2.2,'series-vy');line(A,minutes,swVz,'#0000ff',2.2,'series-vz');
  const yt=range(-500,100,100);
  finishAxes(A,timeTickMin,timeTickLabels,yt,yt.map(v=>fmtMinus(v)),16);
  legend(1605,2163,71,71,[['Vx','#ff0000'],['Vy','#008000'],['Vz','#0000ff']],'velocity-legend');
  title(midX,tops[3]-11,'Solar Wind Velocity (GSE Frame)');ylab(43,tops[3]+TS.h/2,'Vsw(km/s)');
})();
// Beta
(function(){
  const A=tsAxes(4,'plasma-beta-chart',0,5);
  line(A,minutes,betaP,'#0000ff',2.2,'series-beta-p');
  const yt=range(0,5,1);
  finishAxes(A,timeTickMin,timeTickLabels,yt,yt.map(v=>String(v)),16);
  const g=mk('g',{});
  
  
  mk('rect',{x:1607,y:2447,width:69,height:30,fill:'#fff',stroke:'#000','stroke-width':2.2},g);
  mk('line',{x1:1617,x2:1639,y1:2462,y2:2462,stroke:'#0000ff','stroke-width':2.2},g);
  const lt=tx(g,1668,2467,'',13,'end',{'font-family':'Liberation Serif','font-style':'italic',fill:'#666'});lt.innerHTML='β<tspan font-size="9" dy="3">p</tspan>';
  title(midX,tops[4]-11,'Plasma Beta');
  const yl=ylab(72,tops[4]+TS.h/2,'');yl.innerHTML='<tspan font-family="Liberation Serif" font-style="italic" fill="#777">β<tspan font-size="11" dy="3">p</tspan></tspan><tspan dy="-3"> and </tspan><tspan font-family="Liberation Serif" font-style="italic" fill="#777">β</tspan>';
})();
// Np
(function(){
  const A=tsAxes(5,'proton-density-chart',0,30);
  line(A,minutes,npDens,'#0000ff',2.2,'series-np');
  const yt=range(0,30,5);
  finishAxes(A,timeTickMin,timeTickLabels,yt,yt.map(v=>String(v)),16);
  title(midX,tops[5]-11,'Proton Number Density');ylab(68,tops[5]+TS.h/2,'Np(#/cc)');
})();
// Tp
(function(){
  const A=tsAxes(6,'proton-temperature-chart',0,0.5);
  line(A,minutes,tpTemp,'#0000ff',2.2,'series-tp');
  const yt=range(0,0.5,0.1);
  finishAxes(A,timeTickMin,timeTickLabels,yt,yt.map(v=>v.toFixed(1)),16);
  const g=mk('g',{});
  
  
  mk('rect',{x:124,y:3013,width:72,height:28,fill:'#fff',stroke:'#000','stroke-width':2.2},g);
  mk('line',{x1:134,x2:156,y1:3027,y2:3027,stroke:'#0000ff','stroke-width':2.2},g);
  tx(g,188,3033,'Tp',16,'end');
  const t=title(midX,tops[6]-11,'');t.innerHTML='Proton Temperature and <tspan font-family="Liberation Serif" font-style="italic">T<tspan font-size="14" dy="5">e</tspan><tspan dy="-5">/T</tspan><tspan font-size="14" dy="5">p</tspan></tspan>';
  const yl=ylab(58,tops[6]+TS.h/2,'');yl.innerHTML='Tp(<tspan font-size="13">10<tspan font-size="9" dy="-6">6</tspan></tspan><tspan dy="6">K)</tspan>';
})();
</script>
</body></html>
